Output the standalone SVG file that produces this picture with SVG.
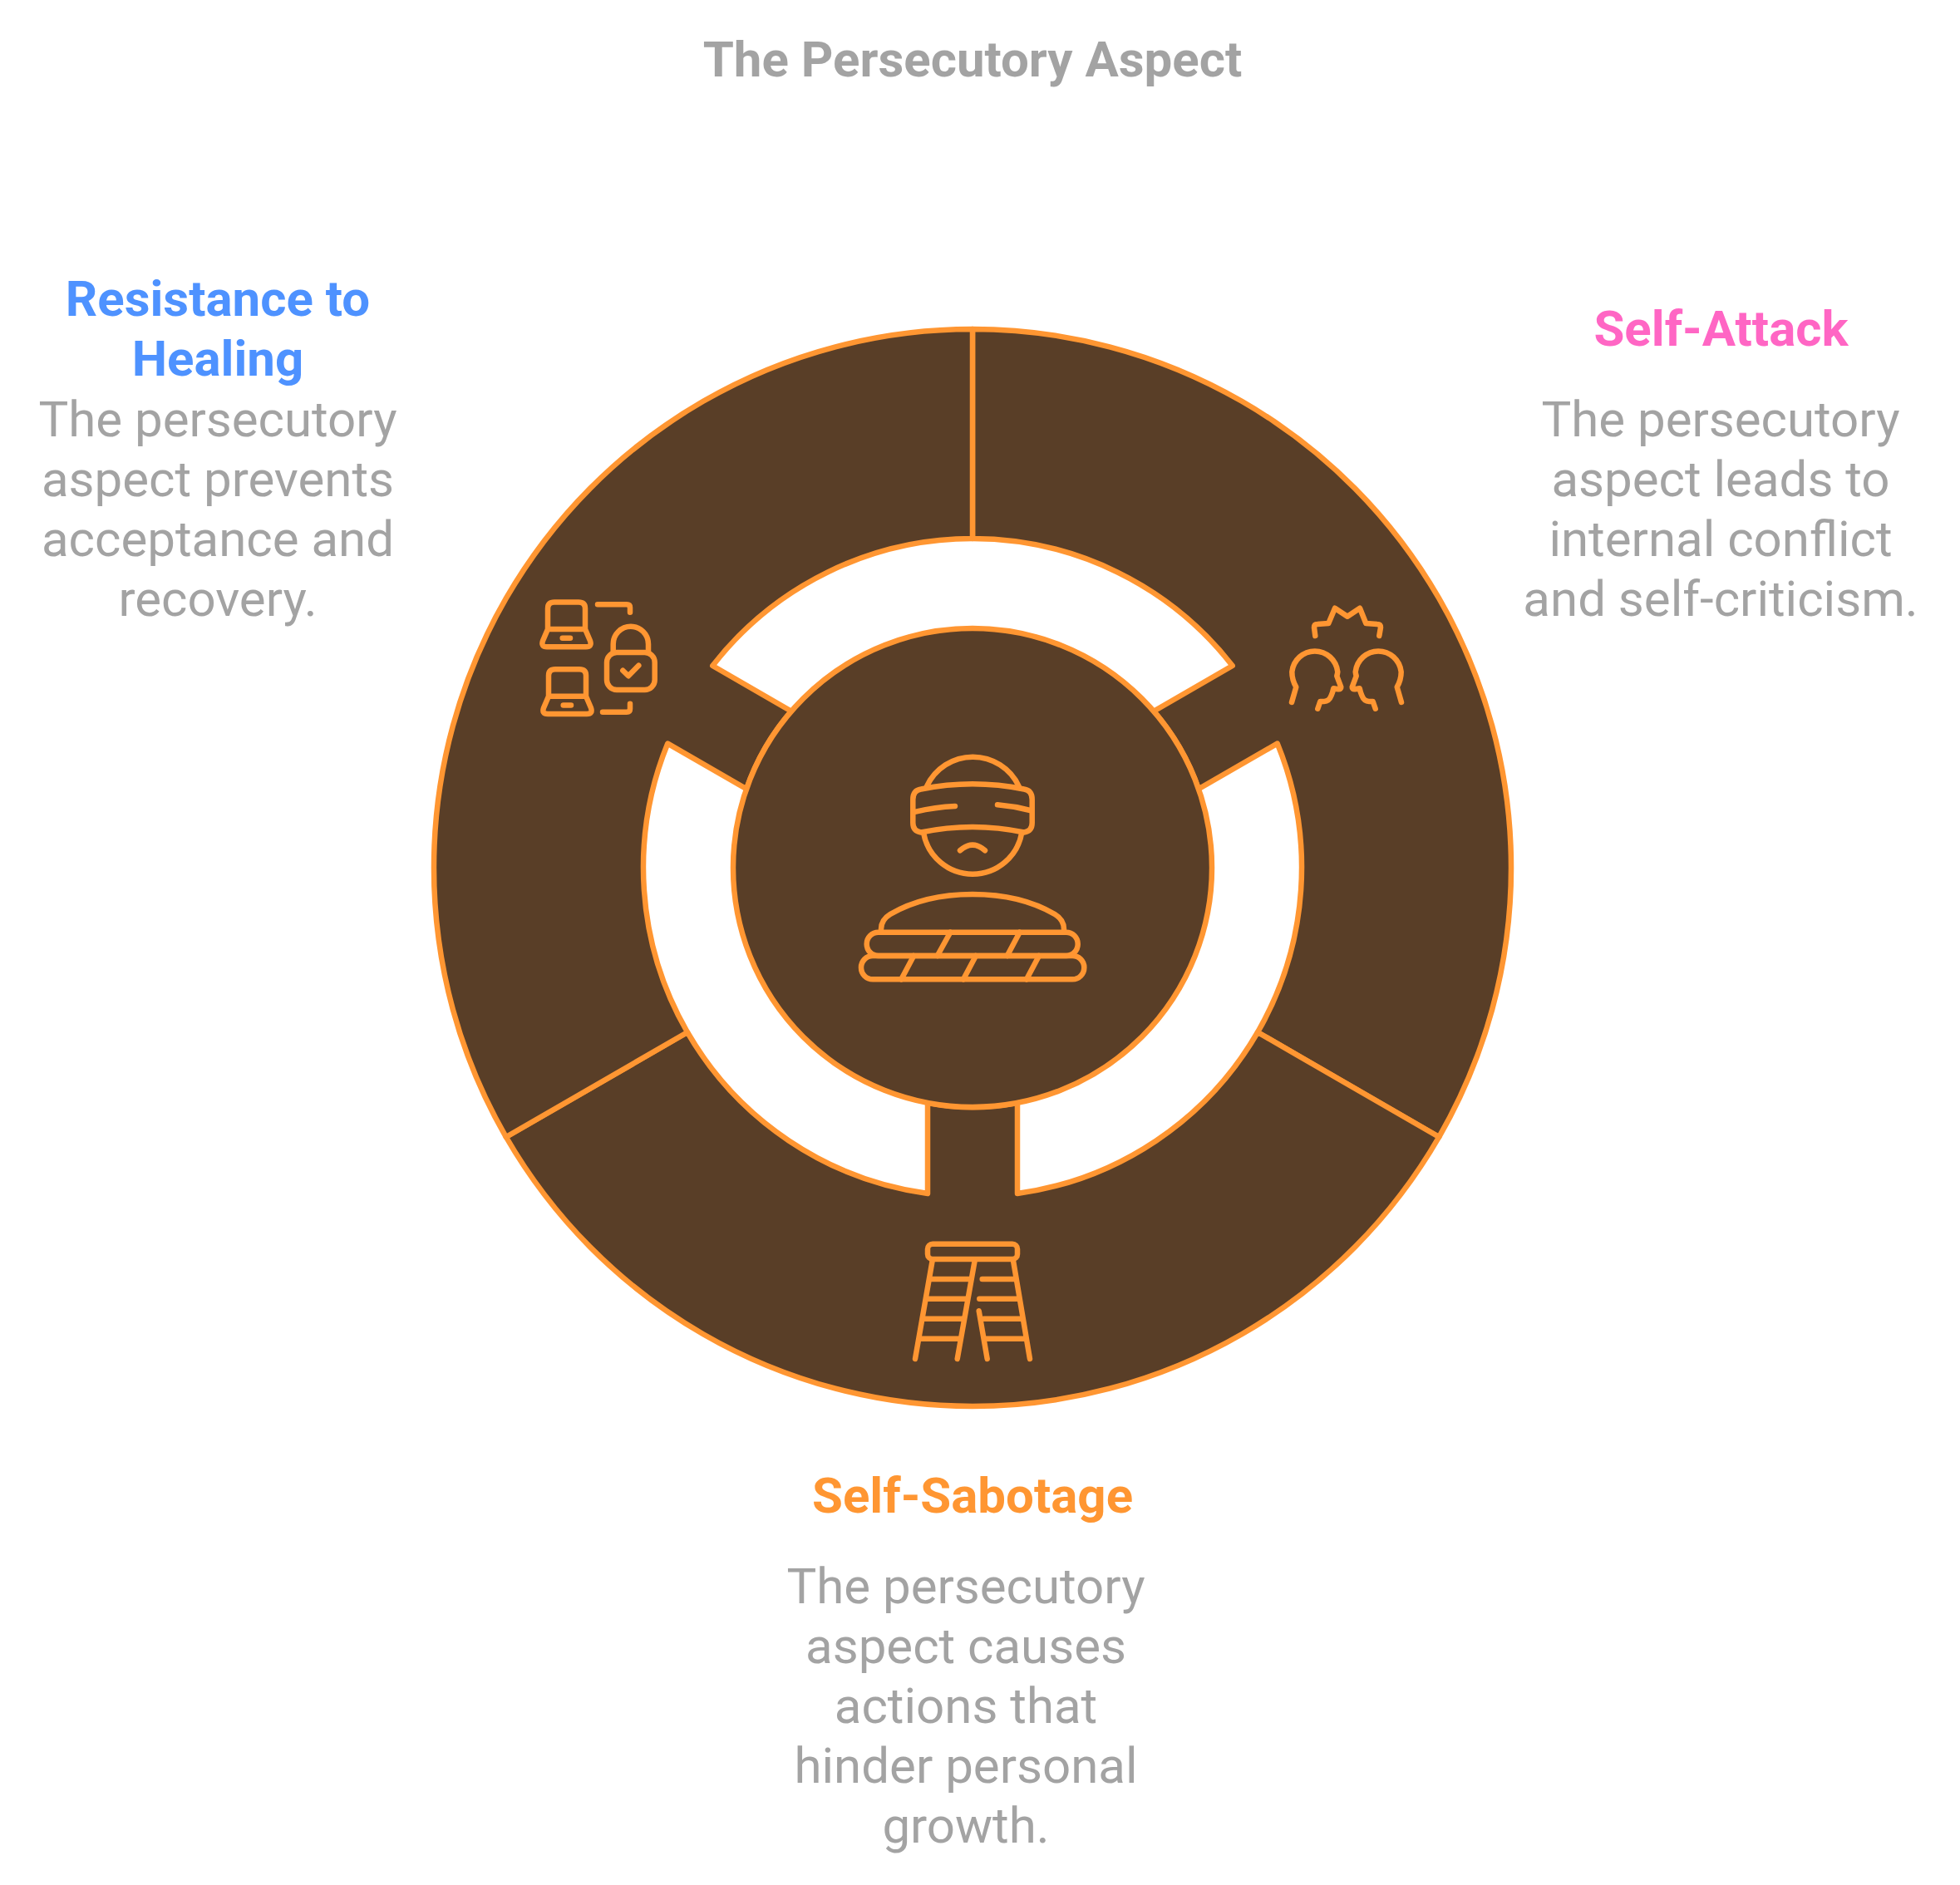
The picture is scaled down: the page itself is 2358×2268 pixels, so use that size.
<svg xmlns="http://www.w3.org/2000/svg" width="2358" height="2268" viewBox="0 0 2358 2268">
<style>
text{font-family:Roboto,"Liberation Sans",sans-serif;text-anchor:middle}
.t{font-size:60px;font-weight:700;fill:#A3A3A3}
.h{font-size:60px;font-weight:700}
.b{font-size:60px;font-weight:400;fill:#A3A3A3}
.seg{fill:#593E27;stroke:#FF9632;stroke-width:6.5;stroke-linejoin:round}
.ic{fill:none;stroke:#FF9632;stroke-width:6.5;stroke-linecap:round;stroke-linejoin:round}
</style>
<rect width="2358" height="2268" fill="#FFFFFF"/>
<g id="title"><text class="t" x="1170" y="92">The Persecutory Aspect</text></g>
<g id="segment-self-attack"><path class="seg" d="M1170 396A648 648 0 0 1 1731.2 1368L1513 1242A396 396 0 0 0 1536.7 894.6L1442 949.3A288 288 0 0 0 1388 855.7L1482.7 801A396 396 0 0 0 1170 648Z"/>
<g class="ic"><path d="M1582.3 765L1581 755Q1581 751 1585 751L1598.3 750L1606 731.7L1621 741.7L1636 731.7L1643.3 750L1656.7 751Q1661 751 1661 755L1659.3 765"/>
<path id="head-l" d="M1554 845L1559.3 826.7C1556 821 1554.3 815 1554.3 808.3A27.7 28.3 0 0 1 1609.3 808.3C1609 811 1608.3 813.3 1608.3 813.3L1613.3 826.7Q1613.5 829.5 1610 829.3L1604.3 828.3C1603.5 832 1603 834 1601.7 836.7Q1599 844 1593 844L1588.3 844L1585.3 852.7"/>
<path d="M1686 845L1680.7 826.7C1684 821 1685.7 815 1685.7 808.3A27.7 28.3 0 0 0 1630.7 808.3C1631 811 1631.7 813.3 1631.7 813.3L1626.7 826.7Q1626.5 829.5 1630 829.3L1635.7 828.3C1636.5 832 1637 834 1638.3 836.7Q1641 844 1647 844L1651.7 844L1654.7 852.7"/></g>
<text class="h" x="2070.5" y="416" fill="#FF66C4">Self-Attack</text>
<text class="b" x="2070" y="525">The persecutory</text><text class="b" x="2070" y="597">aspect leads to</text><text class="b" x="2070" y="669">internal conflict</text><text class="b" x="2070" y="741">and self-criticism.</text></g>
<g id="segment-self-sabotage"><path class="seg" d="M1731.2 1368A648 648 0 0 1 608.8 1368L827 1242A396 396 0 0 0 1116 1436V1327A288 288 0 0 0 1224 1327V1436A396 396 0 0 0 1513 1242Z"/>
<g class="ic"><rect x="1116" y="1496.7" width="108" height="18.3" rx="6"/>
<path d="M1121.7 1516.7L1101 1635M1172.7 1516.7L1151.7 1635M1219 1516.7L1239 1635M1177.7 1577.3L1187.7 1635M1120 1539H1166.7M1115.7 1562.7H1161.7M1111.7 1586.7H1157.3M1107.3 1610.7H1153.3M1181.7 1539H1220M1178.3 1562.7H1224M1183.3 1586.7H1227.7M1186.7 1610.7H1231.7"/></g>
<text class="h" x="1170" y="1820" fill="#FF9632">Self-Sabotage</text>
<text class="b" x="1162" y="1929">The persecutory</text><text class="b" x="1162" y="2001">aspect causes</text><text class="b" x="1162" y="2073">actions that</text><text class="b" x="1162" y="2145">hinder personal</text><text class="b" x="1162" y="2217">growth.</text></g>
<g id="segment-resistance"><path class="seg" d="M608.8 1368A648 648 0 0 1 1170 396V648A396 396 0 0 0 857.3 801L952 855.7A288 288 0 0 0 898 949.3L803.3 894.6A396 396 0 0 0 827 1242Z"/>
<g class="ic"><path id="lap" d="M659 757V732Q659 724.5 667 724.5H696Q704 724.5 704 732V757M659 757H704L710 771Q712.5 778.3 705 778.3H658Q650.5 778.3 653 771ZM676.7 767.7H686"/>
<path d="M660 837.7V812.7Q660 805.2 668 805.2H697Q705 805.2 705 812.7V837.7M660 837.7H705L711 851.7Q713.5 859 706 859H659Q651.5 859 654 851.7ZM677.7 848.4H687"/>
<path d="M719 727.3H754Q758 727.3 758 731V736.7M725 856.7H754Q758 856.7 758 853V846.7"/>
<rect x="730" y="785" width="57.7" height="45" rx="12"/>
<path d="M737.7 785V775A21 21 0 0 1 780 775V785M749.3 806.7L756 813.3L768.3 800.7"/></g>
<text class="h" x="262" y="380" fill="#4E92FF">Resistance to</text><text class="h" x="262" y="452" fill="#4E92FF">Healing</text>
<text class="b" x="262" y="525">The persecutory</text><text class="b" x="262" y="597">aspect prevents</text><text class="b" x="262" y="669">acceptance and</text><text class="b" x="262" y="741">recovery.</text></g>
<g id="center"><circle class="seg" cx="1170" cy="1044" r="288"/>
<g class="ic"><path d="M1115 946A61 61 0 0 1 1225.7 946M1111 1001.7A60 60 0 0 0 1229.3 1001.7"/>
<path d="M1108 949.5Q1170 937 1232 949.5Q1241.7 951 1241.7 962V990Q1241.7 1000 1232 1001.5Q1170 988.5 1108 1001.5Q1098.3 1000 1098.3 990V962Q1098.3 951 1108 949.5Z"/>
<path d="M1101.7 976.7Q1125 971 1149 970M1200 968.3Q1220 970 1239.3 975M1155 1023.3Q1170 1010 1185 1023.3"/>
<path d="M1060 1118C1060 1108 1066 1103 1071 1100C1100 1083 1135 1076 1170 1076C1205 1076 1240 1083 1269 1100C1274 1103 1280 1108 1280 1118"/>
<rect x="1042.7" y="1121.7" width="254" height="28.3" rx="14"/>
<rect x="1036" y="1150" width="268.3" height="28.3" rx="14"/>
<path d="M1143.3 1121.7L1127.7 1150M1226.7 1121.7L1211.7 1150M1099.3 1150L1084.3 1178.3M1174 1150L1159 1178.3M1250 1150L1235 1178.3"/></g></g>
<g id="connectors"></g>
</svg>
